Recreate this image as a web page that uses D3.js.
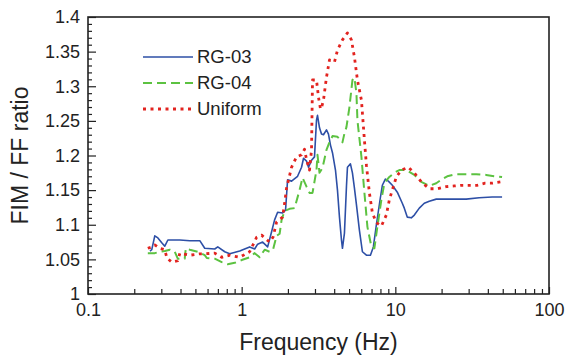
<!DOCTYPE html>
<html>
<head>
<meta charset="utf-8">
<script src="https://cdn.jsdelivr.net/npm/d3@7"></script>
<style>
  html, body { margin: 0; padding: 0; background: #fff; }
  svg { display: block; }
  text { font-family: "Liberation Sans", Arial, Helvetica, sans-serif; fill: #222; }
</style>
</head>
<body>
<svg id="chart" width="567" height="359"></svg>
<script>
// Frequency (Hz) and FIM / FF ratio for each ground model
const rg03Freq = [0.253, 0.260, 0.272, 0.285, 0.302, 0.316, 0.331, 0.367, 0.396, 0.460, 0.534, 0.575, 0.668, 0.699, 0.776, 0.836, 0.971, 1.127, 1.215, 1.270, 1.369, 1.476, 1.566, 1.638, 1.714, 1.847, 1.93, 1.990, 2.112, 2.311, 2.453, 2.527, 2.643, 2.723, 2.848, 2.978, 3.069, 3.115, 3.210, 3.307, 3.407, 3.564, 3.672, 3.784, 3.899, 4.078, 4.202, 4.329, 4.461, 4.528, 4.665, 4.807, 4.880, 5.103, 5.258, 5.418, 5.583, 5.839, 6.107, 6.484, 6.884, 7.197, 7.527, 7.991, 8.233, 8.610, 9.006, 9.561, 10.30, 11.10, 11.44, 11.97, 12.70, 13.29, 14.32, 15.43, 16.63, 18.46, 20.19, 28.91, 35.11, 42.66, 49.5];
const rg03Ratio = [1.062, 1.064, 1.084, 1.081, 1.074, 1.069, 1.078, 1.078, 1.078, 1.077, 1.077, 1.066, 1.065, 1.068, 1.061, 1.058, 1.062, 1.068, 1.065, 1.072, 1.075, 1.068, 1.090, 1.107, 1.118, 1.117, 1.121, 1.165, 1.163, 1.170, 1.183, 1.196, 1.192, 1.183, 1.193, 1.198, 1.251, 1.258, 1.240, 1.231, 1.230, 1.237, 1.231, 1.215, 1.204, 1.179, 1.150, 1.111, 1.078, 1.066, 1.088, 1.155, 1.183, 1.188, 1.175, 1.153, 1.129, 1.092, 1.061, 1.056, 1.056, 1.068, 1.100, 1.139, 1.157, 1.166, 1.163, 1.157, 1.147, 1.131, 1.124, 1.111, 1.110, 1.114, 1.124, 1.131, 1.134, 1.137, 1.137, 1.137, 1.139, 1.140, 1.140];

const rg04Freq = [0.245, 0.272, 0.293, 0.316, 0.341, 0.367, 0.384, 0.426, 0.433, 0.460, 0.518, 0.575, 0.593, 0.668, 0.742, 0.811, 0.901, 1.0, 1.127, 1.215, 1.309, 1.411, 1.520, 1.6, 1.688, 1.766, 1.819, 1.903, 2.050, 2.210, 2.381, 2.490, 2.643, 2.764, 2.891, 3.069, 3.115, 3.210, 3.357, 3.564, 3.728, 3.899, 4.202, 4.528, 4.665, 4.807, 5.028, 5.258, 5.418, 5.583, 5.667, 6.017, 6.293, 6.581, 6.987, 7.305, 7.640, 8.111, 8.483, 9.141, 9.851, 10.62, 11.79, 13.29, 14.75, 16.63, 18.46, 19.89, 21.77, 24.90, 28.91, 33.57, 38.97, 43.95, 49.5];
const rg04Ratio = [1.059, 1.059, 1.061, 1.062, 1.064, 1.061, 1.051, 1.051, 1.066, 1.064, 1.061, 1.056, 1.052, 1.051, 1.046, 1.043, 1.045, 1.049, 1.053, 1.059, 1.053, 1.064, 1.061, 1.064, 1.084, 1.087, 1.107, 1.120, 1.123, 1.124, 1.150, 1.168, 1.155, 1.146, 1.146, 1.179, 1.201, 1.175, 1.182, 1.208, 1.219, 1.228, 1.227, 1.219, 1.232, 1.241, 1.270, 1.309, 1.312, 1.290, 1.251, 1.198, 1.146, 1.097, 1.068, 1.066, 1.097, 1.136, 1.160, 1.169, 1.175, 1.179, 1.179, 1.172, 1.162, 1.156, 1.160, 1.165, 1.170, 1.173, 1.173, 1.173, 1.172, 1.170, 1.169];

const uniformFreq = [0.245, 0.260, 0.272, 0.293, 0.316, 0.326, 0.351, 0.384, 0.396, 0.460, 0.534, 0.575, 0.668, 0.742, 0.836, 0.971, 1.127, 1.252, 1.349, 1.411, 1.520, 1.6, 1.688, 1.847, 1.903, 1.960, 2.112, 2.276, 2.453, 2.565, 2.643, 2.764, 2.848, 2.891, 3.069, 3.162, 3.26, 3.307, 3.407, 3.564, 3.728, 4.018, 4.202, 4.528, 4.880, 5.180, 5.418, 5.667, 6.017, 6.107, 6.293, 6.484, 6.782, 7.090, 7.527, 8.111, 8.740, 9.141, 9.705, 10.15, 10.94, 12.15, 13.29, 14.75, 16.63, 18.74, 21.45, 24.16, 26.83, 30.24, 34.07, 38.39, 42.66, 48.8];
const uniformRatio = [1.066, 1.068, 1.071, 1.066, 1.064, 1.052, 1.046, 1.048, 1.059, 1.056, 1.058, 1.058, 1.059, 1.053, 1.056, 1.053, 1.061, 1.082, 1.085, 1.081, 1.075, 1.082, 1.104, 1.111, 1.131, 1.153, 1.183, 1.198, 1.201, 1.209, 1.194, 1.179, 1.208, 1.309, 1.309, 1.284, 1.267, 1.269, 1.280, 1.313, 1.338, 1.335, 1.352, 1.367, 1.377, 1.367, 1.342, 1.309, 1.280, 1.261, 1.222, 1.186, 1.146, 1.117, 1.103, 1.098, 1.114, 1.136, 1.155, 1.169, 1.179, 1.183, 1.175, 1.162, 1.152, 1.152, 1.155, 1.156, 1.157, 1.157, 1.157, 1.160, 1.160, 1.162];

const seriesNames = ["RG-03", "RG-04", "Uniform"];
const xTickLabels = ["0.1", "1", "10", "100"];
const yTickLabels = ["1", "1.05", "1.1", "1.15", "1.2", "1.25", "1.3", "1.35", "1.4"];

const series = [
  { name: seriesNames[0], freq: rg03Freq, ratio: rg03Ratio, color: "#2d4fa6", width: 1.6, dash: null },
  { name: seriesNames[1], freq: rg04Freq, ratio: rg04Ratio, color: "#5cc241", width: 2, dash: "9,5" },
  { name: seriesNames[2], freq: uniformFreq, ratio: uniformRatio, color: "#e2231f", width: 2.8, dash: "3,4.5" }
];

const svg = d3.select("#chart");
const plot = { left: 88, right: 549, top: 17, bottom: 294 };

const x = d3.scaleLog().domain([0.1, 100]).range([plot.left, plot.right]);
const y = d3.scaleLinear().domain([1, 1.4]).range([plot.bottom, plot.top]);

// Y axis: major ticks every 0.05 with labels, minor every 0.01
const yMajor = yTickLabels.map(Number);
const yMinor = d3.range(0, 41).map(i => 1 + i * 0.01).filter(v => !yMajor.some(m => Math.abs(m - v) < 1e-9));

svg.append("g")
  .attr("transform", `translate(${plot.left},0)`)
  .call(d3.axisLeft(y).tickValues(yMinor).tickSize(-4).tickFormat(""))
  .call(g => g.select(".domain").remove())
  .call(g => g.selectAll("line").attr("stroke", "#222").attr("stroke-width", 1.2));

svg.append("g")
  .attr("transform", `translate(${plot.left},0)`)
  .call(d3.axisLeft(y).tickValues(yMajor).tickSize(-8).tickPadding(8)
    .tickFormat((d, i) => yTickLabels[i]))
  .call(g => g.select(".domain").remove())
  .call(g => g.selectAll("line").attr("stroke", "#222").attr("stroke-width", 1.2))
  .call(g => g.selectAll("text").attr("font-size", 18).attr("fill", "#222")
    .attr("font-family", "'Liberation Sans', Arial, sans-serif"));

// X axis: decades labelled, 2..9 minor ticks
const xMajor = xTickLabels.map(Number);
const xMinor = [];
[0.1, 1, 10].forEach(dec => { for (let k = 2; k <= 9; k++) xMinor.push(dec * k); });

svg.append("g")
  .attr("transform", `translate(0,${plot.bottom})`)
  .call(d3.axisBottom(x).tickValues(xMinor).tickSize(-5).tickFormat(""))
  .call(g => g.select(".domain").remove())
  .call(g => g.selectAll("line").attr("stroke", "#222").attr("stroke-width", 1.2));

svg.append("g")
  .attr("transform", `translate(0,${plot.bottom})`)
  .call(d3.axisBottom(x).tickValues(xMajor).tickSize(-7).tickPadding(9)
    .tickFormat((d, i) => xTickLabels[i]))
  .call(g => g.select(".domain").remove())
  .call(g => g.selectAll("line").attr("stroke", "#222").attr("stroke-width", 1.2))
  .call(g => g.selectAll("text").attr("font-size", 18).attr("fill", "#222")
    .attr("font-family", "'Liberation Sans', Arial, sans-serif"));

// Plot frame
svg.append("rect")
  .attr("x", plot.left).attr("y", plot.top)
  .attr("width", plot.right - plot.left).attr("height", plot.bottom - plot.top)
  .attr("fill", "none").attr("stroke", "#222").attr("stroke-width", 1.6);

// Curves
const line = d3.line().x(d => x(d[0])).y(d => y(d[1]));
series.forEach(s => {
  svg.append("path")
    .datum(s.freq.map((f, i) => [f, s.ratio[i]]))
    .attr("d", line)
    .attr("fill", "none")
    .attr("stroke", s.color)
    .attr("stroke-width", s.width)
    .attr("stroke-dasharray", s.dash)
    .attr("stroke-linejoin", "round");
});

// Legend
const legend = svg.append("g");
series.forEach((s, i) => {
  const ly = 57 + i * 26;
  legend.append("line")
    .attr("x1", 143).attr("x2", 193).attr("y1", ly).attr("y2", ly)
    .attr("stroke", s.color).attr("stroke-width", s.width)
    .attr("stroke-dasharray", s.dash);
  legend.append("text")
    .attr("x", 197).attr("y", ly).attr("dy", "0.35em")
    .attr("font-size", 18.5)
    .text(s.name);
});

// Axis titles
svg.append("text")
  .attr("x", (plot.left + plot.right) / 2).attr("y", 350)
  .attr("text-anchor", "middle")
  .attr("font-size", 23)
  .text("Frequency (Hz)");

svg.append("text")
  .attr("transform", `translate(28,${(plot.top + plot.bottom) / 2}) rotate(-90)`)
  .attr("text-anchor", "middle")
  .attr("font-size", 23)
  .text("FIM / FF ratio");
</script>
</body>
</html>
